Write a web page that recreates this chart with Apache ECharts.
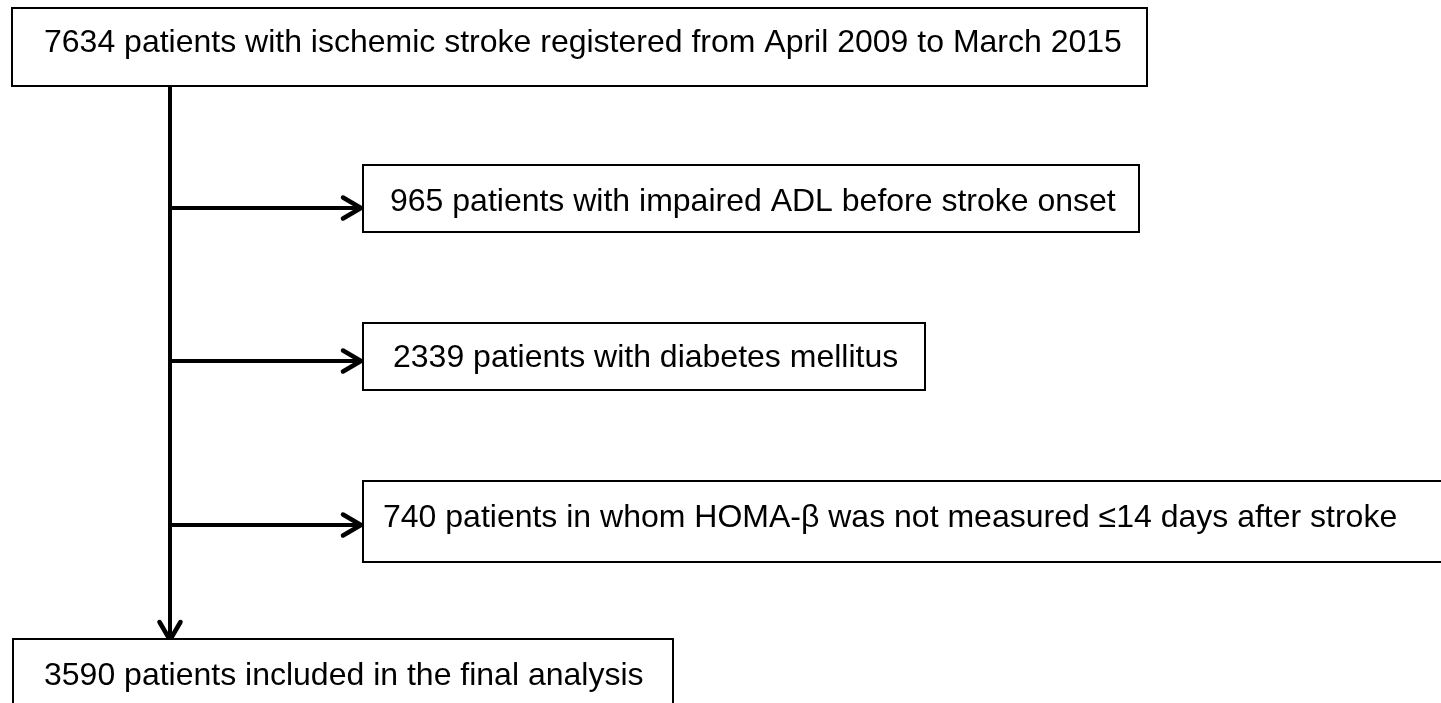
<!DOCTYPE html>
<html>
<head>
<meta charset="utf-8">
<script src="https://cdn.jsdelivr.net/npm/echarts@6/dist/echarts.min.js"></script>
<style>
html,body{margin:0;padding:0;background:#fff;}
#chart{width:1441px;height:703px;}
</style>
</head>
<body>
<div id="chart"></div>
<script>
// ---- data ----
const counts = [7634, 965, 2339, 740, 3590];
const descriptions = [
  'patients with ischemic stroke registered from April 2009 to March 2015',
  'patients with impaired ADL before stroke onset',
  'patients with diabetes mellitus',
  'patients in whom HOMA-\u03b2 was not measured \u226414 days after stroke',
  'patients included in the final analysis'
];
const roles = ['source', 'excluded', 'excluded', 'excluded', 'final'];

// ---- layout (axis units = pixels) ----
const boxes = [
  [12, 8, 1147, 86],
  [363, 165, 1139, 232],
  [363, 323, 925, 390],
  [363, 481, 1460, 562],
  [13, 639, 673, 720]
];
const textPos = [[44, 43.5], [390, 202], [393, 358], [383, 518.5], [44, 676.5]];
const trunkX = 170;
const trunkTop = 86, trunkBottom = 641;
const branchY = [208, 361, 525];
const branchEnd = 362;

const chart = echarts.init(document.getElementById('chart'));
const FONT = '"Liberation Sans", Arial, sans-serif';

function chevron(api, tip, dir) {
  const L = 18, H = 10.5;
  let pts;
  if (dir === 'right') pts = [[tip[0] - L, tip[1] - H], tip, [tip[0] - L, tip[1] + H]];
  else pts = [[tip[0] - H, tip[1] - L], tip, [tip[0] + H, tip[1] - L]];
  return {
    type: 'polyline',
    shape: { points: pts.map(p => api.coord(p)) },
    style: { stroke: '#000', lineWidth: 4.5, fill: null, lineJoin: 'miter', lineCap: 'round' }
  };
}

const option = {
  animation: false,
  backgroundColor: '#fff',
  grid: { left: 0, right: 0, top: 0, bottom: 0 },
  xAxis: { type: 'value', min: 0, max: 1441, show: false },
  yAxis: { type: 'value', min: 0, max: 703, inverse: true, show: false },
  series: [
    {
      type: 'custom',
      name: 'arrows',
      clip: false,
      data: [0],
      renderItem: function (params, api) {
        const children = [];
        const a = api.coord([trunkX, trunkTop]);
        const b = api.coord([trunkX, trunkBottom - 2]);
        children.push({ type: 'line', shape: { x1: a[0], y1: a[1], x2: b[0], y2: b[1] },
          style: { stroke: '#000', lineWidth: 4 } });
        children.push(chevron(api, [trunkX, trunkBottom - 1], 'down'));
        branchY.forEach(function (y) {
          const s = api.coord([trunkX, y]);
          const e = api.coord([branchEnd - 2, y]);
          children.push({ type: 'line', shape: { x1: s[0], y1: s[1], x2: e[0], y2: e[1] },
            style: { stroke: '#000', lineWidth: 4 } });
          children.push(chevron(api, [branchEnd - 1, y], 'right'));
        });
        return { type: 'group', children: children };
      }
    },
    {
      type: 'custom',
      name: 'boxes',
      clip: false,
      data: counts.map((c, i) => [i, c]),
      renderItem: function (params, api) {
        const i = api.value(0);
        const bx = boxes[i];
        const p0 = api.coord([bx[0], bx[1]]);
        const p1 = api.coord([bx[2], bx[3]]);
        const tp = api.coord(textPos[i]);
        return {
          type: 'group',
          children: [
            { type: 'rect',
              shape: { x: p0[0], y: p0[1], width: p1[0] - p0[0], height: p1[1] - p0[1] },
              style: { fill: '#fff', stroke: '#000', lineWidth: 2 } },
            { type: 'text',
              style: { text: counts[i] + ' ' + descriptions[i], x: tp[0], y: tp[1],
                fill: '#000', fontSize: 32, fontFamily: FONT,
                align: 'left', verticalAlign: 'middle' } }
          ]
        };
      }
    }
  ]
};
chart.setOption(option);
</script>
</body>
</html>
